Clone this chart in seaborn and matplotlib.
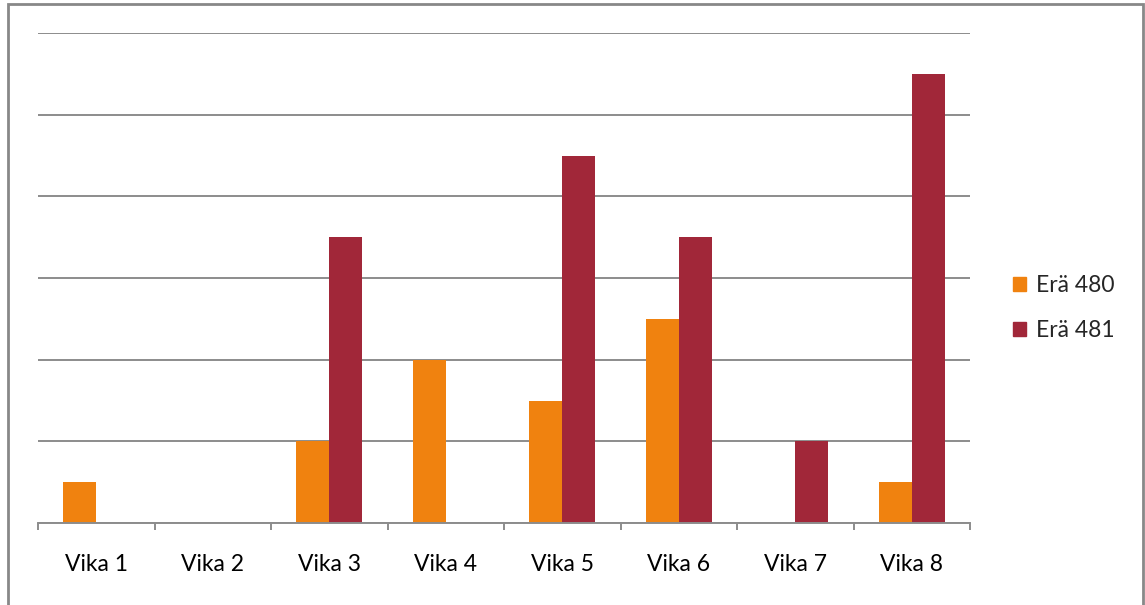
import matplotlib
matplotlib.use("Agg")
import matplotlib.pyplot as plt
import matplotlib.patches as mpatches
import seaborn as sns
import pandas as pd
import numpy as np

categories = ["Vika 1", "Vika 2", "Vika 3", "Vika 4", "Vika 5", "Vika 6", "Vika 7", "Vika 8"]
era_480 = [1, 0, 2, 4, 3, 5, 0, 1]
era_481 = [0, 0, 7, 0, 9, 7, 2, 11]
series_names = ["Erä 480", "Erä 481"]
colors = ["#F0820F", "#A12739"]

df = pd.DataFrame({
    "Vika": categories * 2,
    "Määrä": era_480 + era_481,
    "Erä": [series_names[0]] * len(categories) + [series_names[1]] * len(categories),
})

sns.set_theme(style="white")
plt.rcParams["font.family"] = ["Lato", "DejaVu Sans"]

fig = plt.figure(figsize=(11.45, 6.05), dpi=100)
W, H = 1145, 605
ax = fig.add_axes([38 / W, 1 - 523 / H, (970 - 38) / W, (523 - 33) / H])

sns.barplot(data=df, x="Vika", y="Määrä", hue="Erä", palette=colors,
            width=0.57, saturation=1, ax=ax, legend=False, errorbar=None,
            linewidth=0, edgecolor="none")

ax.set_ylim(0, 12)
ax.set_xlim(-0.5, len(categories) - 0.5)
ax.set_yticks(np.arange(0, 13, 2))
ax.set_yticklabels([])
ax.tick_params(axis="y", length=0)
ax.yaxis.grid(True, color="#8c8c8c", linewidth=1.4)
ax.set_axisbelow(True)
ax.set_xlabel("")
ax.set_ylabel("")

for side in ["left", "right", "top"]:
    ax.spines[side].set_visible(False)
ax.spines["bottom"].set_color("#8c8c8c")
ax.spines["bottom"].set_linewidth(1.4)

ax.set_xticks(np.arange(-0.5, len(categories), 1.0), minor=True)
ax.tick_params(axis="x", which="minor", bottom=True, length=5, width=1.4,
               color="#8c8c8c", direction="out")
ax.tick_params(axis="x", which="major", bottom=True, length=0, pad=22,
               labelsize=16.5, labelcolor="#000000")

handles = [mpatches.Patch(color=c) for c in colors]
fig.legend(handles, series_names, loc="center left", bbox_to_anchor=(992 / W, 1 - 308 / H),
           frameon=False, fontsize=16.5, handlelength=0.6, handleheight=0.6,
           handletextpad=0.4, labelspacing=1.05)

border = mpatches.Rectangle((8 / W, -0.01), (1143 - 8) / W, 1 - 4 / H + 0.01,
                            transform=fig.transFigure, fill=False,
                            edgecolor="#888888", linewidth=2)
fig.patches.append(border)

fig.savefig("out.png", dpi=100)
